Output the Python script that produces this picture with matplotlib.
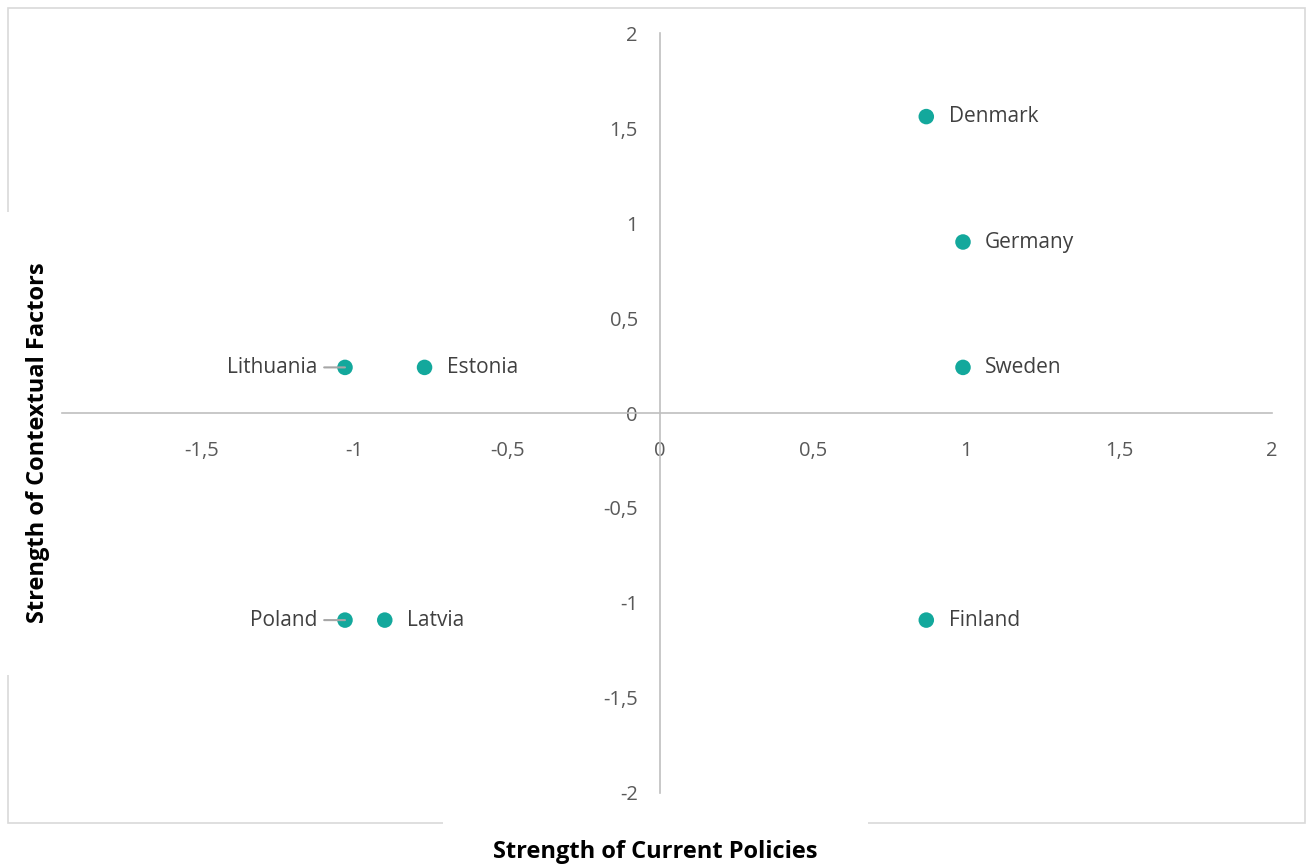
import matplotlib.pyplot as plt
from matplotlib.patches import Rectangle
from matplotlib.ticker import FuncFormatter

plt.rcParams['font.family'] = ['Open Sans', 'DejaVu Sans']

# data
countries = ['Denmark', 'Germany', 'Sweden', 'Finland', 'Lithuania', 'Estonia', 'Poland', 'Latvia']
policies = [0.87, 0.99, 0.99, 0.87, -1.03, -0.77, -1.03, -0.90]
contextual = [1.56, 0.90, 0.24, -1.09, 0.24, 0.24, -1.09, -1.09]
label_side = ['right', 'right', 'right', 'right', 'left', 'right', 'left', 'right']

x_ticks = [-1.5, -1, -0.5, 0, 0.5, 1, 1.5, 2]
y_ticks = [-2, -1.5, -1, -0.5, 0, 0.5, 1, 1.5, 2]

teal = '#13a89c'
grey = '#bfbfbf'
text_col = '#595959'

W, H = 1309, 866
fig = plt.figure(figsize=(13.09, 8.66), dpi=100)

# outer chart border, with white gaps where the axis titles sit
fig.patches.append(Rectangle((8 / W, 1 - 823 / H), 1297 / W, 815 / H,
                             transform=fig.transFigure, fill=False,
                             edgecolor='#d9d9d9', linewidth=1.2, zorder=-2))
fig.patches.append(Rectangle((0, 1 - 675 / H), 30 / W, 463 / H, transform=fig.transFigure,
                             facecolor='white', edgecolor='none', zorder=-1))
fig.patches.append(Rectangle((443 / W, 0), 425 / W, 50 / H, transform=fig.transFigure,
                             facecolor='white', edgecolor='none', zorder=-1))

ax = fig.add_axes([62 / W, 1 - 793 / H, 1210 / W, 760 / H])
ax.set_xlim(-1.955, 2)
ax.set_ylim(-2, 2)
ax.patch.set_alpha(0)

for s in ['top', 'right']:
    ax.spines[s].set_visible(False)
ax.spines['left'].set_position(('data', 0))
ax.spines['bottom'].set_position(('data', 0))
ax.spines['left'].set_color(grey)
ax.spines['bottom'].set_color(grey)
ax.spines['left'].set_linewidth(1.2)
ax.spines['bottom'].set_linewidth(1.2)

fmt = FuncFormatter(lambda v, p: ('%g' % v).replace('.', ','))
ax.set_xticks(x_ticks)
ax.set_yticks(y_ticks)
ax.xaxis.set_major_formatter(fmt)
ax.yaxis.set_major_formatter(fmt)
ax.tick_params(length=0, labelsize=14.5, colors=text_col)
ax.tick_params(axis='x', pad=20)
ax.tick_params(axis='y', pad=16)

ax.scatter(policies, contextual, s=125, color=teal, zorder=3, edgecolors='none')

for name, px, py, side in zip(countries, policies, contextual, label_side):
    if side == 'right':
        ax.annotate(name, (px, py), xytext=(16, 0), textcoords='offset points',
                    ha='left', va='center', fontsize=15, color='#404040')
    else:
        ax.annotate(name, (px, py), xytext=(-20, 0), textcoords='offset points',
                    ha='right', va='center', fontsize=15, color='#404040',
                    arrowprops=dict(arrowstyle='-', color='#a6a6a6', lw=1.5,
                                    shrinkA=3, shrinkB=0))

fig.text(655 / W, 1 - 852 / H, 'Strength of Current Policies', ha='center', va='center',
         fontsize=17, fontweight='bold', color='black')
fig.text(38 / W, 1 - 443 / H, 'Strength of Contextual Factors', ha='center', va='center',
         rotation=90, fontsize=17, fontweight='bold', color='black')

fig.savefig('out.png', dpi=100)
